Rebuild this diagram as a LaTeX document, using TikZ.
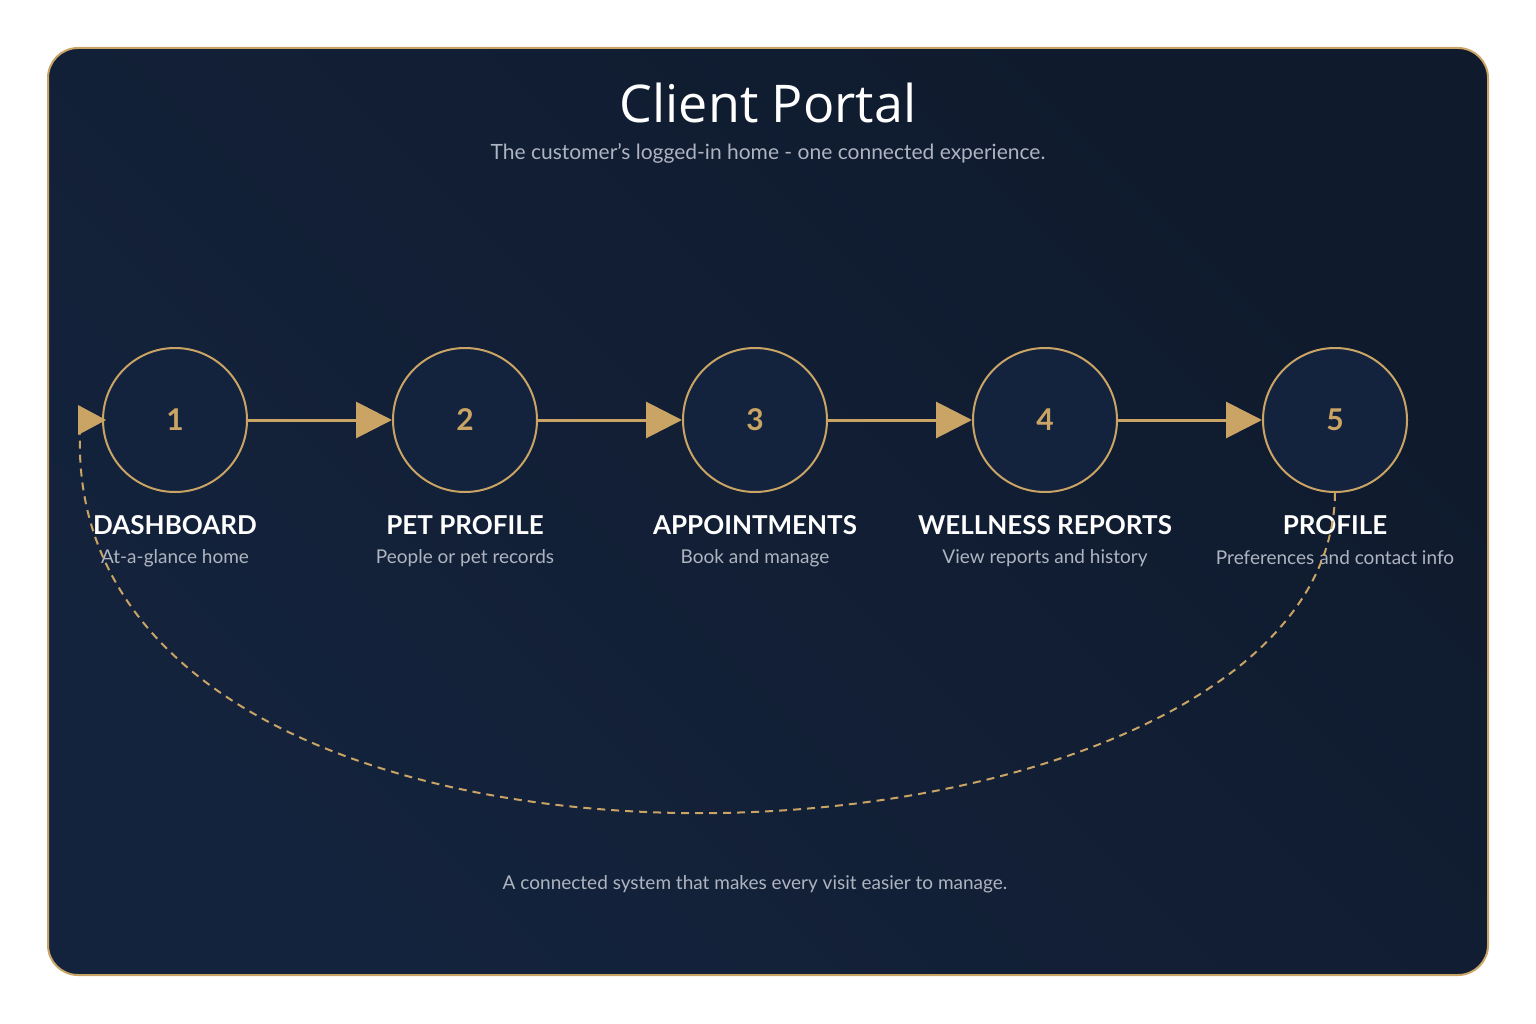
\documentclass[tikz,border=0pt]{standalone}
\usepackage{fontspec}
\setmainfont{Lato}
\newfontfamily\titlefont{Open Sans}
\usetikzlibrary{arrows.meta}
\definecolor{gold}{HTML}{C9A464}
\definecolor{navyA}{HTML}{14233D}
\definecolor{navyB}{HTML}{0F1A2C}
\definecolor{subg}{HTML}{AEB4C0}
\begin{document}
\begin{tikzpicture}[x=1pt,y=-1pt,
  stepnode/.style={circle,draw=gold,line width=2pt,fill=navyA,minimum size=144pt,inner sep=0pt,text=gold,font=\fontsize{30}{32}\selectfont\bfseries},
  lab/.style={text=white,font=\fontsize{26}{28}\selectfont\bfseries},
  sub/.style={text=subg,font=\fontsize{19}{21}\selectfont},
  link/.style={gold,line width=3pt,-{Triangle[length=36pt,width=36pt]}}]
\useasboundingbox (0,0) rectangle (1536,1024);
\shade[left color=navyA,right color=navyB,shading angle=135,rounded corners=30pt] (48,48) rectangle (1488,975);
\draw[gold,line width=2pt,rounded corners=30pt] (48,48) rectangle (1488,975);
\node[white,font=\titlefont\fontsize{52}{56}\selectfont] (title) at (768,103) {Client Portal};
\node[sub,font=\fontsize{21}{23}\selectfont] (subtitle) at (768,153) {The customer's logged-in home - one connected experience.};
\foreach \i/\x/\l/\s in {1/175/DASHBOARD/At-a-glance home,2/465/PET PROFILE/People or pet records,3/755/APPOINTMENTS/Book and manage,4/1045/WELLNESS REPORTS/View reports and history,5/1335/PROFILE/Preferences and contact info}{
  \node[stepnode] (c\i) at (\x,420) {\i};
  \node[lab] (l\i) at (\x,525) {\l};
  \node[sub] (s\i) at (\x,558) {\s};
}
\foreach \a/\b in {1/2,2/3,3/4,4/5}{\draw[link] (c\a) -- (c\b);}
\coordinate (back) at (80,432);
\draw[gold,line width=2pt,dash pattern=on 8pt off 6pt] (c5.south) .. controls (1330,900) and (62,960) .. (back);
\fill[gold] (78,405) -- (106,420) -- (78,435) -- cycle;
\node[sub] (foot) at (755,884) {A connected system that makes every visit easier to manage.};
\end{tikzpicture}
\end{document}
